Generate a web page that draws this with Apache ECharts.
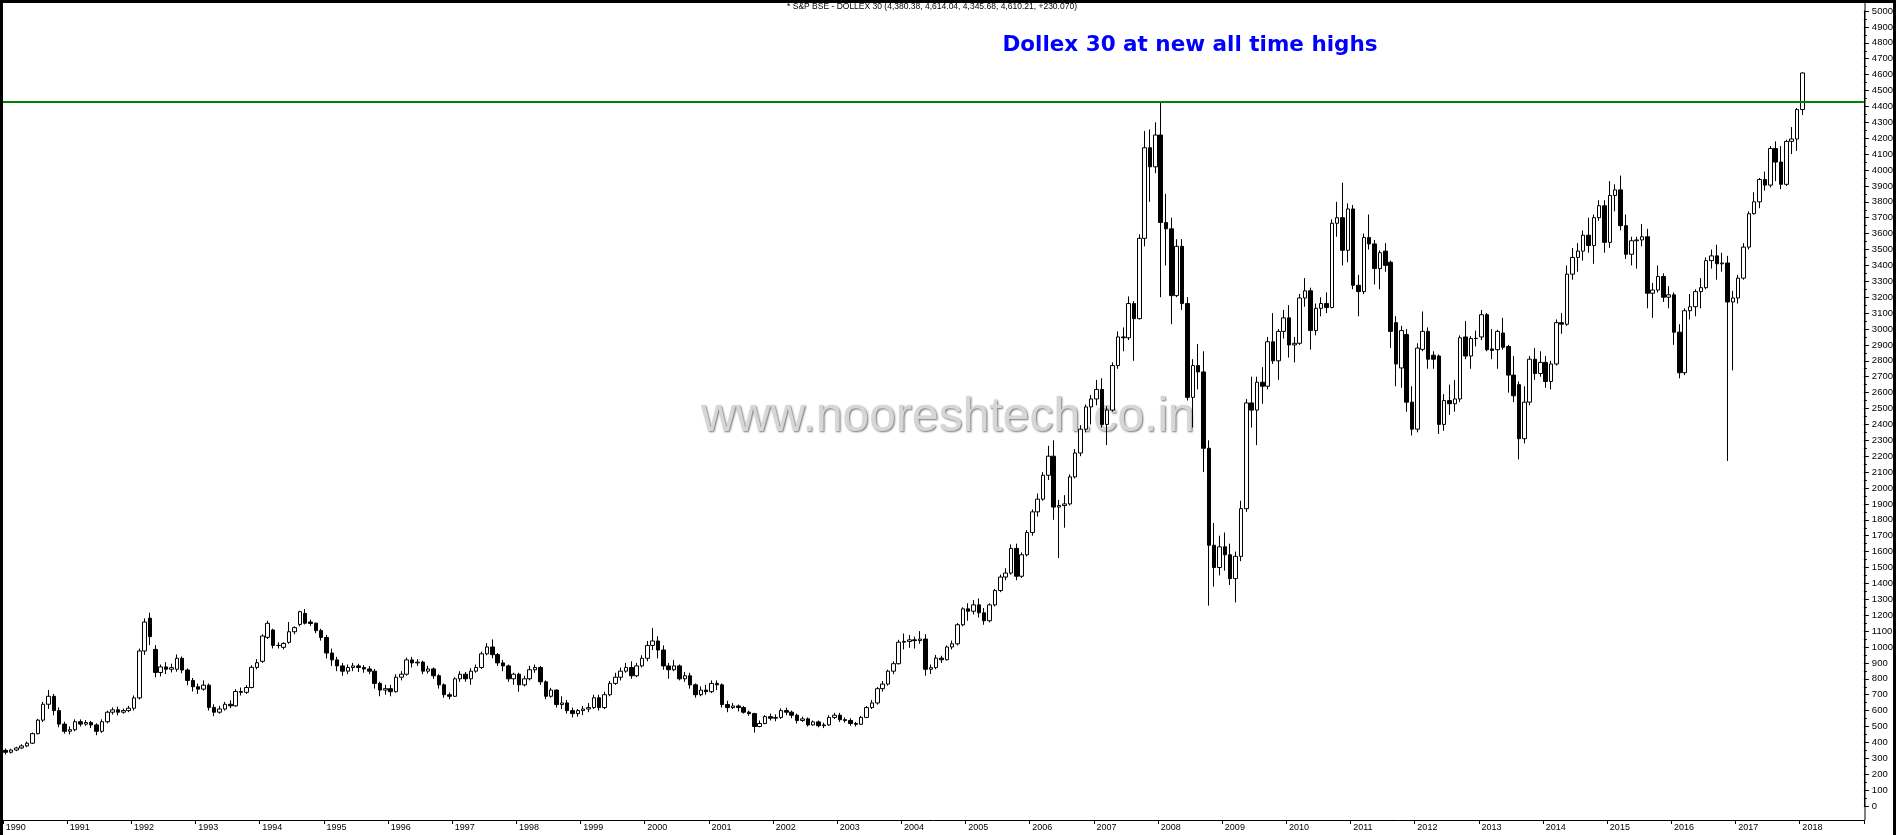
<!DOCTYPE html>
<html><head><meta charset="utf-8">
<script src="https://cdn.jsdelivr.net/npm/echarts/dist/echarts.min.js"></script>
<style>html,body{margin:0;padding:0;background:#fff;}#c{width:1896px;height:835px;}</style>
</head><body><div id="c"></div>
<script>
// Tick labels (years) on the time axis
const years = ['1990','1991','1992','1993','1994','1995','1996','1997','1998','1999','2000','2001','2002','2003','2004','2005','2006','2007','2008','2009','2010','2011','2012','2013','2014','2015','2016','2017','2018'];

// Monthly candles per year: [open, close, low, high]
const y1990 = [[350,338,325,362],[338,352,330,360],[352,365,345,372],[365,378,358,388],[378,395,370,405],[395,455,390,462],[455,540,450,548],[540,640,528,655],[640,690,610,730],[690,600,570,705],[600,515,495,620],[515,470,455,530]];
const y1991 = [[470,480,450,500],[480,530,470,545],[530,515,500,545],[515,525,505,540],[525,510,490,535],[510,470,445,520],[470,530,460,545],[530,590,520,600],[590,605,575,620],[605,590,570,625],[590,600,580,612],[600,615,590,630]];
const y1992 = [[615,680,600,695],[680,975,670,990],[975,1157,950,1180],[1181,1065,1012,1216],[985,840,810,1012],[840,875,815,890],[875,860,830,905],[860,870,840,895],[860,929,845,953],[929,855,835,940],[855,790,760,865],[790,750,720,805]];
const y1993 = [[750,735,705,770],[735,760,725,790],[760,620,600,770],[620,590,565,640],[590,610,580,630],[610,640,600,655],[640,630,615,665],[630,720,625,735],[720,715,695,745],[715,745,705,760],[745,872,740,885],[872,901,860,924]];
const y1994 = [[910,1069,900,1080],[1061,1149,1050,1165],[1107,1010,991,1115],[1010,1010,990,1030],[998,1022,985,1030],[1029,1096,1020,1157],[1096,1122,1080,1130],[1142,1222,1130,1228],[1211,1150,1142,1239],[1157,1148,1133,1172],[1150,1103,1087,1152],[1103,1060,1040,1115]];
const y1995 = [[1060,962,928,1076],[962,919,881,990],[919,881,848,938],[881,848,819,900],[848,871,829,890],[871,881,848,900],[881,871,843,895],[871,862,838,886],[862,848,829,881],[848,771,738,862],[771,729,690,781],[729,738,700,762]];
const y1996 = [[738,719,690,762],[719,810,714,829],[810,829,790,848],[829,919,819,933],[919,900,871,938],[900,905,881,924],[905,848,829,914],[848,862,833,881],[862,819,800,871],[819,762,738,829],[762,700,681,771],[700,690,671,714]];
const y1997 = [[690,800,686,810],[800,829,781,848],[829,800,781,843],[800,848,762,867],[848,871,838,890],[871,957,862,971],[957,1000,948,1024],[1000,952,929,1048],[952,900,881,962],[900,881,848,919],[881,800,781,890],[800,829,762,838]];
const y1998 = [[829,762,719,838],[762,800,752,819],[800,857,790,881],[857,871,838,890],[871,781,762,881],[781,690,671,790],[690,729,681,743],[729,638,619,733],[638,648,610,690],[648,600,581,667],[600,581,557,619],[581,600,562,610]];
const y1999 = [[600,610,571,629],[610,619,590,648],[619,681,610,700],[681,619,600,700],[619,700,610,719],[700,771,690,786],[771,810,762,838],[810,848,790,871],[848,871,838,900],[871,819,800,910],[819,881,810,900],[881,929,871,948]];
const y2000 = [[929,1010,910,1038],[1010,1038,981,1119],[1038,981,929,1067],[981,881,857,1010],[881,857,800,900],[857,881,848,919],[881,800,790,890],[800,819,781,843],[819,762,738,838],[762,700,681,771],[700,729,690,752],[729,719,700,762]];
const y2001 = [[719,771,710,790],[771,762,729,790],[762,638,619,771],[638,619,590,662],[619,629,610,648],[629,619,595,638],[619,590,581,629],[590,581,567,600],[581,500,462,586],[500,519,495,538],[519,562,514,571],[562,552,538,581]];
const y2002 = [[552,557,533,576],[557,600,548,614],[600,590,571,619],[590,571,552,600],[571,538,519,581],[538,548,529,562],[548,510,500,557],[510,529,505,538],[529,505,495,538],[505,510,490,524],[510,557,505,571],[557,571,548,586]];
const y2003 = [[571,543,529,586],[543,538,524,557],[538,519,505,552],[519,514,500,529],[514,557,510,567],[557,619,552,629],[619,648,610,667],[648,738,638,748],[738,767,719,786],[767,848,757,857],[848,895,829,910],[895,1030,890,1045]];
const y2004 = [[1030,1035,985,1085],[1035,1045,995,1075],[1045,1040,990,1065],[1040,1050,1020,1100],[1050,860,820,1080],[860,870,830,890],[870,930,860,950],[930,920,900,945],[920,1000,915,1010],[1000,1020,985,1040],[1020,1140,1010,1150],[1140,1240,1130,1250]];
const y2005 = [[1240,1225,1165,1275],[1225,1265,1205,1295],[1265,1215,1185,1305],[1215,1165,1140,1245],[1165,1265,1155,1275],[1265,1355,1255,1365],[1355,1440,1345,1455],[1440,1465,1420,1495],[1465,1620,1455,1645],[1620,1445,1420,1650],[1445,1580,1435,1595],[1580,1720,1570,1735]];
const y2006 = [[1720,1850,1700,1865],[1850,1930,1820,1965],[1930,2080,1920,2100],[2080,2200,2050,2265],[2200,1880,1800,2300],[1880,1890,1560,1925],[1890,1900,1750,1955],[1900,2070,1890,2085],[2070,2220,2060,2245],[2220,2370,2200,2395],[2370,2510,2350,2525],[2510,2560,2400,2585]];
const y2007 = [[2560,2620,2520,2680],[2620,2400,2380,2690],[2400,2490,2270,2515],[2490,2770,2480,2790],[2770,2950,2750,2985],[2950,2945,2860,3010],[2945,3160,2930,3205],[3160,3065,2800,3175],[3065,3570,3060,3595],[3570,4140,3520,4245],[4140,4020,3800,4255],[4020,4220,3980,4300]];
const y2008 = [[4220,3670,3200,4431],[3670,3630,3400,3850],[3630,3210,3030,3700],[3210,3520,3200,3565],[3520,3160,3120,3565],[3160,2570,2550,3200],[2570,2770,2380,2810],[2770,2730,2620,2905],[2730,2250,2100,2860],[2250,1640,1260,2300],[1640,1500,1380,1780],[1500,1630,1450,1700]];
const y2009 = [[1630,1580,1480,1720],[1580,1430,1390,1650],[1430,1570,1280,1600],[1570,1870,1540,1920],[1870,2535,1850,2560],[2535,2490,2380,2700],[2490,2665,2270,2700],[2665,2640,2530,2760],[2640,2920,2620,2950],[2920,2800,2780,3100],[2800,2985,2680,3000],[2985,3070,2940,3120]];
const y2010 = [[3070,2900,2820,3150],[2900,2910,2790,2950],[2910,3195,2900,3220],[3195,3240,3140,3320],[3240,2990,2870,3260],[2990,3130,2960,3160],[3130,3160,3080,3200],[3160,3135,3100,3230],[3135,3665,3130,3690],[3665,3700,3580,3800],[3700,3495,3400,3920],[3495,3755,3420,3790]];
const y2011 = [[3755,3275,3250,3780],[3275,3235,3080,3340],[3235,3575,3220,3600],[3575,3535,3500,3720],[3535,3380,3280,3560],[3380,3480,3250,3495],[3490,3400,3360,3540],[3420,2985,2880,3430],[3040,2780,2640,3080],[2755,2990,2630,3020],[2965,2540,2480,3000],[2540,2370,2330,2640]];
const y2012 = [[2370,2880,2350,2910],[2872,2985,2860,3110],[2985,2810,2750,3010],[2835,2810,2750,2860],[2830,2400,2340,2840],[2400,2550,2360,2590],[2550,2530,2460,2650],[2530,2560,2480,2680],[2560,2945,2540,2960],[2950,2830,2810,3050],[2830,2940,2750,2955],[2940,2942,2890,2990]];
const y2013 = [[2950,3090,2930,3120],[3090,2870,2860,3100],[2875,2865,2810,3000],[2870,2985,2750,2995],[2975,2885,2870,3070],[2890,2710,2600,2900],[2710,2580,2540,2830],[2650,2310,2180,2670],[2310,2540,2280,2640],[2540,2810,2520,2830],[2810,2720,2680,2880],[2720,2790,2700,2860]];
const y2014 = [[2790,2670,2630,2830],[2670,2780,2620,2800],[2780,3040,2770,3060],[3040,3030,2970,3100],[3030,3345,3020,3400],[3345,3450,3310,3510],[3450,3490,3360,3540],[3490,3590,3430,3620],[3590,3525,3480,3700],[3525,3700,3410,3720],[3700,3775,3680,3810],[3775,3545,3480,3810]];
const y2015 = [[3545,3840,3510,3930],[3840,3875,3740,3910],[3875,3650,3620,3965],[3650,3470,3440,3720],[3470,3555,3400,3580],[3555,3560,3380,3580],[3560,3580,3520,3660],[3580,3225,3130,3630],[3225,3245,3070,3290],[3245,3330,3230,3400],[3330,3200,3170,3350],[3200,3215,3130,3270]];
const y2016 = [[3215,2980,2900,3230],[2980,2725,2690,3030],[2725,3115,2710,3130],[3115,3140,3060,3220],[3140,3235,3080,3250],[3235,3260,3130,3320],[3260,3430,3250,3450],[3430,3460,3380,3500],[3460,3410,3310,3530],[3410,3415,3360,3480],[3415,3170,2170,3460],[3170,3195,2740,3240]];
const y2017 = [[3195,3320,3160,3340],[3320,3515,3310,3540],[3515,3725,3500,3740],[3725,3800,3720,3860],[3800,3940,3760,3950],[3940,3905,3870,3990],[3905,4135,3890,4150],[4135,4050,3930,4180],[4050,3910,3880,4150],[3910,4180,3900,4190],[4180,4195,4100,4270],[4195,4380,4120,4390]];
const y2018 = [[4380.38,4610.21,4345.68,4614.04]];

const yearlyCandles = [y1990,y1991,y1992,y1993,y1994,y1995,y1996,y1997,y1998,y1999,y2000,y2001,y2002,y2003,y2004,y2005,y2006,y2007,y2008,y2009,y2010,y2011,y2012,y2013,y2014,y2015,y2016,y2017,y2018];

const headerText = '* S&P BSE - DOLLEX 30 (4,380.38, 4,614.04, 4,345.68, 4,610.21, +230.070)';
const titleText = 'Dollex 30 at new all time highs';
const watermarkText = 'www.nooreshtech.co.in';
const previousHigh = 4431;

// Build month categories and OHLC rows ([open, close, low, high] as ECharts wants)
const categories = [];
const ohlc = [];
years.forEach((yr, i) => {
  for (let m = 1; m <= 12; m++) {
    categories.push(yr + '-' + String(m).padStart(2, '0'));
    const row = yearlyCandles[i][m - 1];
    if (row) ohlc.push(row);
  }
});
const isJan = (idx, val) => String(val).endsWith('-01');

const chart = echarts.init(document.getElementById('c'), null, {renderer: 'canvas', width: 1896, height: 835});
chart.setOption({
  animation: false,
  backgroundColor: '#ffffff',
  grid: {left: 3, right: 31, top: 11, bottom: 29, containLabel: false},
  xAxis: {
    type: 'category', data: categories, boundaryGap: true, offset: 14,
    axisLine: {show: true, onZero: false, lineStyle: {color: '#000', width: 1}},
    axisTick: {show: true, interval: isJan, length: 4, lineStyle: {color: '#000'}},
    axisLabel: {interval: isJan, formatter: v => v.slice(0, 4), color: '#000', fontSize: 9, fontFamily: 'Liberation Sans', align: 'left', margin: 3},
    splitLine: {show: false}
  },
  yAxis: {
    type: 'value', position: 'right', min: 0, max: 5000, interval: 100, scale: false,
    axisLine: {show: true, lineStyle: {color: '#000', width: 1}},
    axisTick: {show: true, length: 5, lineStyle: {color: '#000'}},
    minorTick: {show: true, splitNumber: 2, length: 3, lineStyle: {color: '#000'}},
    axisLabel: {color: '#000', fontSize: 9.5, fontFamily: 'Liberation Sans', margin: 8, formatter: v => String(v)},
    splitLine: {show: false}, minorSplitLine: {show: false}
  },
  series: [{
    type: 'candlestick', data: ohlc, barWidth: 4, z: 3,
    itemStyle: {color: '#ffffff', color0: '#000000', borderColor: '#000000', borderColor0: '#000000', borderColorDoji: '#000000', borderWidth: 1},
    emphasis: {disabled: true},
    markLine: {
      silent: true, symbol: ['none', 'none'], label: {show: false},
      lineStyle: {color: '#008000', width: 2, type: 'solid'},
      data: [{yAxis: previousHigh}]
    }
  }],
  graphic: [
    {type: 'text', z: 0, silent: true, x: 948, y: 418,
     style: {text: watermarkText, fill: '#d6d6d6', fontSize: 48, fontFamily: 'Liberation Sans', align: 'center', verticalAlign: 'middle',
             textShadowColor: 'rgba(0,0,0,0.55)', textShadowBlur: 2, textShadowOffsetX: 1, textShadowOffsetY: 1}},
    {type: 'text', z: 10, silent: true, x: 932, y: 7,
     style: {text: headerText, fill: '#000', fontSize: 8.5, fontFamily: 'Liberation Sans', align: 'center', verticalAlign: 'middle'}},
    {type: 'text', z: 10, silent: true, x: 1190, y: 45,
     style: {text: titleText, fill: '#0000ff', fontSize: 21.5, fontWeight: 'bold', fontFamily: 'DejaVu Sans', align: 'center', verticalAlign: 'middle'}},
    {type: 'line', z: 10, silent: true, shape: {x1: 1865, y1: 3, x2: 1865, y2: 820}, style: {stroke: '#000', lineWidth: 1}},
    {type: 'rect', z: 20, silent: true, shape: {x: 0, y: 0, width: 1896, height: 3}, style: {fill: '#000'}},
    {type: 'rect', z: 20, silent: true, shape: {x: 0, y: 0, width: 3, height: 835}, style: {fill: '#000'}},
    {type: 'rect', z: 20, silent: true, shape: {x: 1893, y: 0, width: 3, height: 835}, style: {fill: '#000'}}
  ]
});
</script></body></html>
